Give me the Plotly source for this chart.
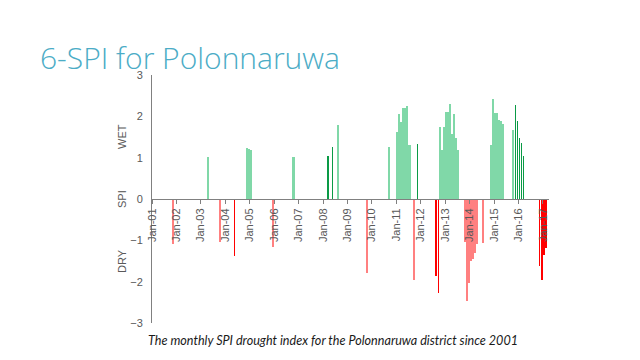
import plotly.graph_objects as go

# ---- data (monthly SPI, only months with |SPI| >= 1 are drawn) ----
months = ["2001-11", "2003-04", "2003-10", "2004-05", "2004-11", "2004-12", "2005-01",
          "2005-12", "2006-10", "2008-03", "2008-05", "2008-08", "2009-10", "2010-09",
          "2011-01", "2011-02", "2011-03", "2011-04", "2011-05", "2011-06", "2011-07",
          "2011-09", "2011-11", "2012-08", "2012-09", "2012-10", "2012-11", "2012-12",
          "2013-01", "2013-02", "2013-03", "2013-04", "2013-05", "2013-06", "2013-07",
          "2013-10", "2013-11", "2013-12", "2014-01", "2014-02", "2014-03", "2014-04",
          "2014-07", "2014-11", "2014-12", "2015-01", "2015-02", "2015-03", "2015-04",
          "2015-05", "2015-10", "2015-11", "2015-12", "2016-01", "2016-02", "2016-03",
          "2016-11", "2016-12", "2017-01", "2017-02"]
spi = [-1.09, 1.02, -1.05, -1.38, 1.23, 1.20, 1.19,
       -1.15, 1.02, 1.04, 1.27, 1.78, -1.78, 1.25,
       1.63, 2.05, 1.86, 2.19, 2.19, 2.25, 1.31,
       -1.96, 1.32, -1.86, -2.28, 1.73, 1.19, 1.75,
       2.10, 2.10, 2.31, 1.57, 2.06, 1.48, 1.19,
       -1.05, -2.46, -2.03, -1.50, -1.45, -1.30, -1.10,
       -1.07, 1.31, 2.42, 2.08, 2.07, 1.90, 1.88,
       1.82, 1.67, 2.27, 1.89, 1.47, 1.36, 1.05,
       -1.63, -1.96, -1.35, -1.18]
# months drawn as thin, saturated bars in the reference
thin_months = ["2004-05", "2008-03", "2008-05", "2011-11", "2012-08", "2012-09",
               "2015-11", "2015-12", "2016-01", "2016-02", "2016-03",
               "2016-11", "2016-12", "2017-01", "2017-02"]
tick_years = list(range(2001, 2018))
tick_labels = ["Jan-%02d" % (y % 100) for y in tick_years]
y_ticks = [-3, -2, -1, 0, 1, 2, 3]

# ---- styles / layout ----
GREEN, GREEN_DARK = "#80d8a8", "#0a9a46"
RED, RED_BRIGHT = "#ff8080", "#ff0000"
DAY = 86400000
colors, widths = [], []
for m, v in zip(months, spi):
    thin = m in thin_months
    if v > 0:
        colors.append(GREEN_DARK if thin else GREEN)
    else:
        colors.append(RED_BRIGHT if thin else RED)
    widths.append((2 if thin else 31) * DAY)

# page is rendered with an 8px body margin, so the figure is 8px smaller
OFF = 8
W, H = 640 - OFF, 360 - OFF
L, T, R, B = 152 - OFF, 75 - OFF, 549 - OFF, 323 - OFF
PW, PH = R - L, B - T


def px_x(x):
    return (x - OFF - L) / PW


def px_y(y):
    return (B - (y - OFF)) / PH


fig = go.Figure(go.Bar(
    x=months, y=spi, xperiod="M1", xperiodalignment="middle",
    width=widths, marker=dict(color=colors, line=dict(width=0)),
))

axis_font = dict(family="Liberation Sans", size=11, color="#595959")
fig.update_layout(
    width=W, height=H, paper_bgcolor="white", plot_bgcolor="white",
    margin=dict(l=L, r=W - R, t=T, b=H - B),
    showlegend=False, bargap=0,
    xaxis=dict(type="date", range=["2001-01-01", "2017-04-01"],
               tickvals=["%d-01-01" % y for y in tick_years], ticktext=tick_labels,
               tickangle=-90, ticks="outside", ticklen=4, tickcolor="#808080",
               showline=True, linecolor="#808080", linewidth=1,
               showgrid=False, zeroline=False, anchor="free", position=0.5,
               tickfont=axis_font, automargin=False),
    yaxis=dict(range=[-3, 3], tickvals=y_ticks, showgrid=False, zeroline=False,
               showline=True, linecolor="#808080", linewidth=1, ticks="",
               ticklabelstandoff=6, tickfont=axis_font, automargin=False),
    font=dict(family="Liberation Sans", color="#595959"),
)

fig.add_annotation(text="6-SPI for Polonnaruwa", xref="paper", yref="paper",
                   x=px_x(38), y=px_y(57), xanchor="left", yanchor="middle",
                   showarrow=False, font=dict(family="Open Sans", size=30, color="#4bacc6", weight=300))
for label, yv in [("WET", 1.5), ("SPI", 0), ("DRY", -1.5)]:
    fig.add_annotation(text=label, xref="paper", yref="y", x=px_x(122), y=yv,
                       textangle=-90, showarrow=False, xanchor="center", yanchor="middle",
                       font=axis_font)
fig.add_annotation(text="<i>The monthly SPI drought index for the Polonnaruwa district since 2001</i>",
                   xref="paper", yref="paper", x=px_x(333), y=px_y(340),
                   xanchor="center", yanchor="middle", showarrow=False,
                   font=dict(family="Lato", size=12.6, color="#1a1a1a"))

fig.write_html("out.html")
